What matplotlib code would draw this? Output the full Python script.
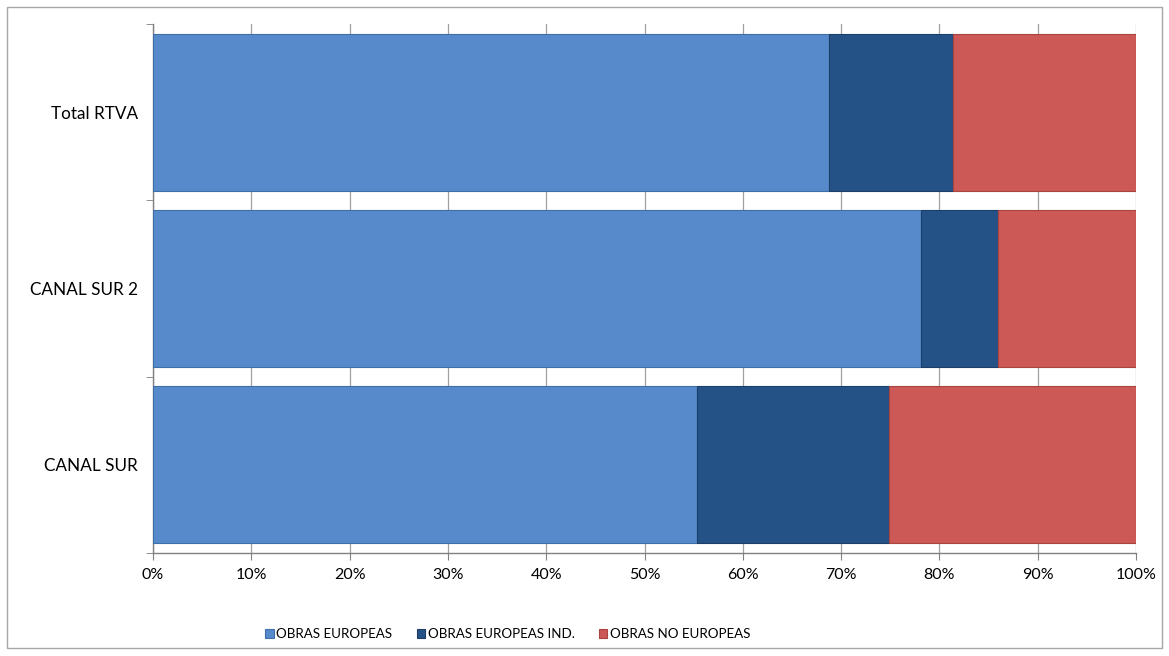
import numpy as np
import matplotlib
matplotlib.use('Agg')
from matplotlib import pyplot as plt
from matplotlib.ticker import PercentFormatter

plt.rcParams['font.family'] = ['Lato', 'DejaVu Sans']

categories = ['CANAL SUR', 'CANAL SUR 2', 'Total RTVA']
series_names = ['OBRAS EUROPEAS', 'OBRAS EUROPEAS IND.', 'OBRAS NO EUROPEAS']
obras_europeas = [55.3, 78.1, 68.8]
obras_europeas_ind = [19.6, 7.9, 12.6]
obras_no_europeas = [25.1, 14.0, 18.6]
colors = ['#568ACA', '#255286', '#CD5956']
edges = ['#3F6FA8', '#1B3F6A', '#A84442']

fig = plt.figure(figsize=(11.69, 6.56), dpi=100)
fig.patches.append(plt.Rectangle((0.006, 0.012), 0.988, 0.978, transform=fig.transFigure,
                                 fill=False, ec='#A6A6A6', lw=1.0))
ax = fig.add_axes([153 / 1169, 1 - 553 / 656, 983 / 1169, 529 / 656])

y = np.arange(len(categories))
left = np.zeros(len(categories))
for vals, name, col, ec in zip([obras_europeas, obras_europeas_ind, obras_no_europeas],
                               series_names, colors, edges):
    ax.barh(y, vals, left=left, height=0.89, color=col, edgecolor=ec, lw=0.8,
            label=name, zorder=3)
    left += np.array(vals)

ax.set_xlim(0, 100)
ax.set_ylim(-0.5, len(categories) - 0.5)
ax.xaxis.set_major_locator(plt.MultipleLocator(10))
ax.xaxis.set_major_formatter(PercentFormatter(decimals=0))
ax.grid(axis='x', color='#A0A0A0', lw=0.9, zorder=0)

ax.set_yticks(y)
ax.set_yticklabels(categories)
ax.set_yticks(np.arange(-0.5, len(categories)), minor=True)
ax.tick_params(axis='y', which='major', length=0, pad=11, labelsize=12.3)
ax.tick_params(axis='y', which='minor', length=5, color='#808080')
ax.tick_params(axis='x', length=5, color='#808080', labelsize=11.5, pad=6)

for s in ['top', 'right']:
    ax.spines[s].set_visible(False)
for s in ['left', 'bottom']:
    ax.spines[s].set_color('#808080')
    ax.spines[s].set_linewidth(1.0)

ax.legend(loc='center', bbox_to_anchor=(0.361, -0.153), ncol=3, frameon=False,
          fontsize=9.6, handlelength=0.65, handleheight=0.65, handletextpad=0.2,
          columnspacing=1.8)

fig.savefig('out.png', dpi=100)
